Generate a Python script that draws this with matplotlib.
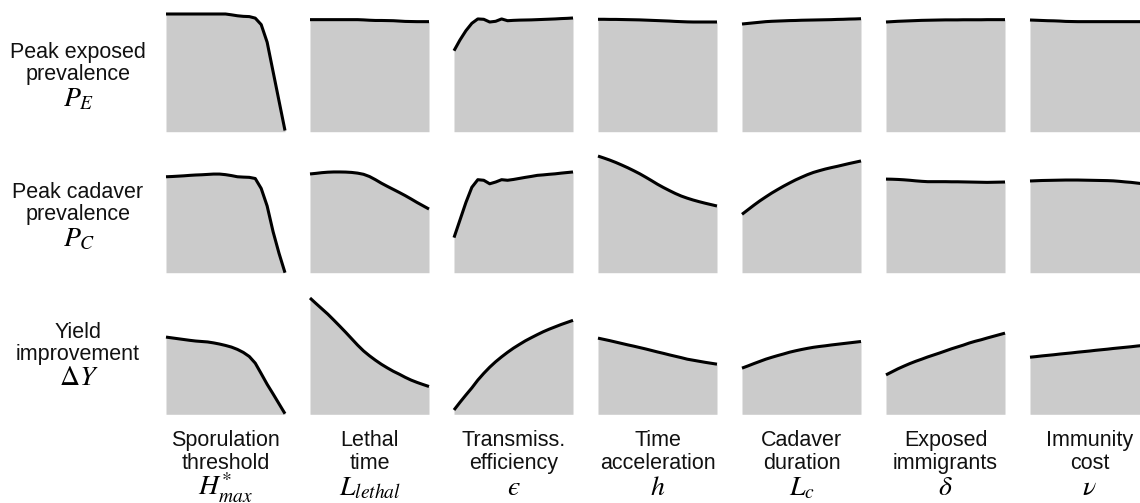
import numpy as np
import matplotlib
matplotlib.use("Agg")
import matplotlib.pyplot as plt

plt.rcParams["font.family"] = ["Liberation Sans", "DejaVu Sans"]
plt.rcParams["mathtext.fontset"] = "stix"

# Normalised parameter position along each sweep (0 = low end, 1 = high end)
param_pos = np.linspace(0.0, 1.0, 21)

column_titles = ["Sporulation\nthreshold", "Lethal\ntime", "Transmiss.\nefficiency",
                 "Time\nacceleration", "Cadaver\nduration", "Exposed\nimmigrants",
                 "Immunity\ncost"]
column_symbols = [r"$H_{max}^{*}$", r"$L_{lethal}$", "$\u03f5$", r"$h$",
                  r"$L_c$", r"$\delta$", r"$\nu$"]

row_titles = ["Peak exposed\nprevalence", "Peak cadaver\nprevalence", "Yield\nimprovement"]
row_symbols = [r"$P_E$", r"$P_C$", r"$\Delta Y$"]

# Relative outcome along each parameter sweep (one list per parameter)
peak_exposed = [
    [1.0, 1.0, 1.0, 1.0, 1.0, 1.0, 1.0, 1.0, 1.0, 1.0, 1.0,
     0.993, 0.985, 0.98, 0.978, 0.965, 0.91, 0.76, 0.51, 0.26, 0.01],
    [0.952, 0.952, 0.952, 0.952, 0.952, 0.952, 0.952, 0.952, 0.952, 0.95, 0.947,
     0.945, 0.945, 0.944, 0.943, 0.94, 0.937, 0.936, 0.935, 0.935, 0.935],
    [0.688, 0.779, 0.858, 0.921, 0.958, 0.955, 0.932, 0.938, 0.958, 0.943, 0.946,
     0.948, 0.949, 0.95, 0.952, 0.954, 0.956, 0.958, 0.961, 0.963, 0.966],
    [0.955, 0.955, 0.954, 0.954, 0.953, 0.952, 0.951, 0.95, 0.948, 0.946, 0.944,
     0.942, 0.94, 0.937, 0.935, 0.933, 0.932, 0.932, 0.932, 0.932, 0.932],
    [0.915, 0.92, 0.925, 0.93, 0.935, 0.938, 0.94, 0.942, 0.944, 0.945, 0.947,
     0.948, 0.949, 0.95, 0.951, 0.952, 0.954, 0.955, 0.957, 0.958, 0.96],
    [0.932, 0.935, 0.938, 0.94, 0.942, 0.944, 0.946, 0.947, 0.948, 0.949, 0.95,
     0.95, 0.95, 0.951, 0.951, 0.951, 0.951, 0.952, 0.952, 0.952, 0.952],
    [0.949, 0.947, 0.945, 0.943, 0.942, 0.94, 0.937, 0.936, 0.935, 0.935, 0.935,
     0.935, 0.935, 0.935, 0.935, 0.935, 0.935, 0.935, 0.935, 0.935, 0.935],
]

peak_cadaver = [
    [0.82, 0.822, 0.825, 0.828, 0.832, 0.835, 0.837, 0.84, 0.843, 0.843, 0.838,
     0.83, 0.82, 0.817, 0.815, 0.805, 0.72, 0.57, 0.35, 0.165, 0.0],
    [0.844, 0.849, 0.855, 0.859, 0.861, 0.861, 0.86, 0.857, 0.851, 0.841, 0.822,
     0.795, 0.765, 0.738, 0.712, 0.686, 0.659, 0.63, 0.6, 0.572, 0.544],
    [0.30, 0.45, 0.60, 0.73, 0.795, 0.79, 0.76, 0.775, 0.795, 0.79, 0.797,
     0.806, 0.815, 0.823, 0.832, 0.836, 0.841, 0.845, 0.851, 0.856, 0.861],
    [0.997, 0.98, 0.962, 0.942, 0.92, 0.897, 0.872, 0.846, 0.817, 0.787, 0.756,
     0.728, 0.702, 0.677, 0.655, 0.637, 0.621, 0.607, 0.594, 0.582, 0.57],
    [0.499, 0.538, 0.577, 0.614, 0.648, 0.681, 0.711, 0.74, 0.767, 0.793, 0.816,
     0.838, 0.857, 0.872, 0.886, 0.898, 0.909, 0.921, 0.933, 0.944, 0.955],
    [0.80, 0.799, 0.797, 0.794, 0.79, 0.785, 0.781, 0.778, 0.778, 0.778, 0.778,
     0.777, 0.777, 0.776, 0.775, 0.774, 0.773, 0.772, 0.773, 0.774, 0.775],
    [0.784, 0.786, 0.788, 0.789, 0.79, 0.791, 0.792, 0.792, 0.792, 0.791, 0.79,
     0.789, 0.788, 0.787, 0.785, 0.781, 0.776, 0.772, 0.766, 0.76, 0.755],
]

yield_improvement = [
    [0.664, 0.657, 0.65, 0.643, 0.636, 0.63, 0.626, 0.622, 0.614, 0.604, 0.592,
     0.578, 0.558, 0.532, 0.497, 0.44, 0.35, 0.258, 0.175, 0.09, 0.005],
    [1.0, 0.953, 0.907, 0.861, 0.81, 0.758, 0.705, 0.65, 0.595, 0.545, 0.503,
     0.465, 0.43, 0.399, 0.37, 0.345, 0.318, 0.294, 0.274, 0.256, 0.239],
    [0.037, 0.103, 0.166, 0.227, 0.294, 0.352, 0.405, 0.452, 0.494, 0.533, 0.569,
     0.601, 0.632, 0.659, 0.685, 0.71, 0.732, 0.752, 0.772, 0.79, 0.808],
    [0.655, 0.644, 0.633, 0.621, 0.609, 0.597, 0.586, 0.574, 0.562, 0.549, 0.536,
     0.524, 0.511, 0.499, 0.487, 0.474, 0.465, 0.456, 0.447, 0.439, 0.431],
    [0.397, 0.416, 0.436, 0.455, 0.474, 0.49, 0.505, 0.519, 0.534, 0.546, 0.557,
     0.567, 0.576, 0.583, 0.589, 0.596, 0.602, 0.608, 0.614, 0.62, 0.626],
    [0.339, 0.365, 0.391, 0.414, 0.436, 0.456, 0.474, 0.493, 0.51, 0.527, 0.545,
     0.563, 0.579, 0.595, 0.613, 0.628, 0.641, 0.656, 0.67, 0.684, 0.698],
    [0.491, 0.496, 0.502, 0.507, 0.512, 0.518, 0.523, 0.528, 0.534, 0.539, 0.544,
     0.55, 0.555, 0.56, 0.566, 0.571, 0.576, 0.581, 0.587, 0.592, 0.597],
]

rows = [peak_exposed, peak_cadaver, yield_improvement]

W, H = 1140, 503
fig = plt.figure(figsize=(W / 100, H / 100), dpi=100)

# panel layout in pixels
col_left = [166 + i * 144 for i in range(7)]
panel_w = 119
row_top = [14, 155.7, 298]
row_bottom = [131.7, 272.7, 414.3]

fill_color = "#cbcbcb"

for r, series in enumerate(rows):
    for c, values in enumerate(series):
        x0 = col_left[c]
        ax = fig.add_axes([x0 / W, 1 - row_bottom[r] / H,
                           panel_w / W, (row_bottom[r] - row_top[r]) / H])
        ax.fill_between(param_pos, 0, values, color=fill_color, lw=0)
        ax.plot(param_pos, values, color="black", lw=2.2,
                solid_capstyle="butt", solid_joinstyle="round", clip_on=False)
        ax.set_xlim(0, 1)
        ax.set_ylim(0, 1)
        ax.axis("off")

# row labels
row_label_lines = [(52, 99), (192, 239), (332, 378)]
for r in range(3):
    y_text, y_sym = row_label_lines[r]
    fig.text(78 / W, 1 - (y_text + 11.5) / H, row_titles[r], ha="center", va="center",
             fontsize=15.5, linespacing=1.08, color="#111111")
    fig.text(79 / W, 1 - y_sym / H, row_symbols[r], ha="center", va="center",
             fontsize=20)

# column labels
for c in range(7):
    xc = (col_left[c] + panel_w / 2) / W
    fig.text(xc, 1 - 452 / H, column_titles[c], ha="center", va="center",
             fontsize=15.5, linespacing=1.08, color="#111111")
    fig.text(xc, 1 - 488 / H, column_symbols[c], ha="center", va="center",
             fontsize=20)

fig.savefig("out.png", dpi=100)
